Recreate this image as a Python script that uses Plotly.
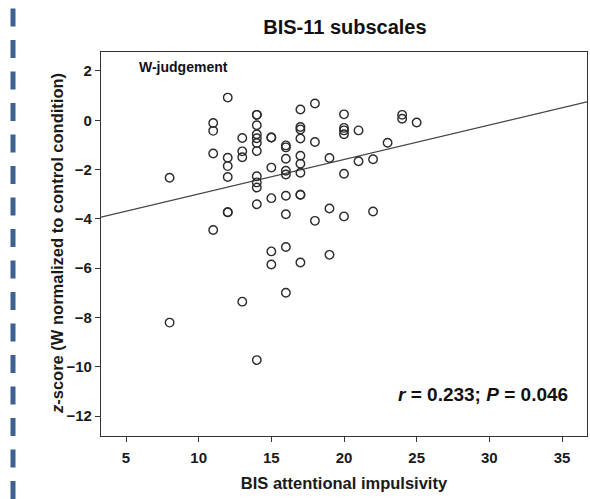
import plotly.graph_objects as go

# BIS attentional impulsivity scores (x) and z-scores (y)
bis_x = (
    [8] * 2 + [11] * 4 + [12] * 6 + [13] * 4 + [14] * 12 + [15] * 6 + [16] * 9 +
    [17] * 10 + [18] * 3 + [19] * 3 + [20] * 6 + [21] * 2 + [22] * 2 + [23] * 1 +
    [24] * 2 + [25] * 1
)
z_scores = [
    -2.33, -8.21,
    -0.11, -0.43, -1.35, -4.45,
    0.92, -1.52, -1.86, -2.30, -3.73, -3.73,
    -0.72, -1.26, -1.50, -7.36,
    0.22, 0.22, -0.20, -0.57, -0.73, -0.92, -1.25, -2.27, -2.52, -2.73, -3.41, -9.73,
    -0.70, -0.70, -1.92, -3.16, -5.32, -5.85,
    -1.02, -1.10, -1.56, -2.05, -2.20, -3.06, -3.81, -5.14, -7.00,
    0.44, -0.27, -0.37, -0.74, -1.44, -1.76, -2.13, -3.02, -3.02, -5.77,
    0.68, -0.88, -4.08,
    -1.53, -3.58, -5.46,
    0.24, -0.31, -0.41, -0.57, -2.17, -3.90,
    -0.41, -1.66,
    -1.58, -3.70,
    -0.91,
    0.22, 0.06,
    -0.09,
]

fit_intercept = -4.39
fit_slope = 0.14

x_range = [3.28, 36.72]
y_range = [-12.81, 2.77]
x_ticks = [5, 10, 15, 20, 25, 30, 35]
x_tick_labels = ["5", "10", "15", "20", "25", "30", "35"]
y_ticks = [2, 0, -2, -4, -6, -8, -10, -12]
y_tick_labels = ["2", "0", "\u22122", "\u22124", "\u22126", "\u22128", "\u221210", "\u221212"]

FONT = "Liberation Sans, Arial, sans-serif"

fig = go.Figure()

fit_x = x_range
fit_y = [fit_intercept + fit_slope * v for v in fit_x]
fig.add_trace(go.Scatter(
    x=fit_x, y=fit_y, mode="lines",
    line=dict(color="#444444", width=1.2),
    hoverinfo="skip", showlegend=False,
))

fig.add_trace(go.Scatter(
    x=bis_x, y=z_scores, mode="markers",
    marker=dict(symbol="circle-open", size=8.5, color="#2a2a2a",
                line=dict(width=1.4, color="#2a2a2a")),
    showlegend=False,
))

axis_common = dict(
    showgrid=False, zeroline=False, showline=True, linecolor="#333333",
    linewidth=1.2, mirror=True, ticks="outside", ticklen=5, tickwidth=1,
    tickcolor="#333333",
    tickfont=dict(family=FONT, size=15, color="#1a1a1a"),
)

fig.update_xaxes(
    range=x_range, tickvals=x_ticks,
    ticktext=["<b>" + t + "</b>" for t in x_tick_labels], **axis_common,
    ticklabelstandoff=3,
    title=dict(text="<b>BIS attentional impulsivity</b>",
               font=dict(family=FONT, size=16.5, color="#1a1a1a"), standoff=12),
)
fig.update_yaxes(
    range=y_range, tickvals=y_ticks,
    ticktext=["<b>" + t + "</b>" for t in y_tick_labels], **axis_common,
)

fig.update_layout(
    width=590, height=499,
    margin=dict(l=101, r=3, t=52, b=63),
    paper_bgcolor="white", plot_bgcolor="white",
    title=dict(text="<b>BIS-11 subscales</b>", x=0.5846, xanchor="center",
               y=0.945, yanchor="middle",
               font=dict(family=FONT, size=20, color="#111111")),
    annotations=[
        dict(text="<b><i>z</i>-score (W normalized to control condition)</b>",
             xref="paper", yref="paper", x=(57 - 101) / 486, y=0.5,
             xanchor="center", yanchor="middle", textangle=-90, showarrow=False,
             font=dict(family=FONT, size=16.5, color="#1a1a1a")),
        dict(text="<b>W-judgement</b>", xref="paper", yref="paper",
             x=0.075, y=0.96, xanchor="left", yanchor="middle", showarrow=False,
             font=dict(family=FONT, size=14, color="#111111")),
        dict(text="<b><i>r</i> = 0.233; <i>P</i> = 0.046</b>", xref="paper", yref="paper",
             x=0.965, y=0.109, xanchor="right", yanchor="middle", showarrow=False,
             font=dict(family=FONT, size=19, color="#111111")),
    ],
    shapes=[
        dict(type="line", xref="paper", yref="paper",
             x0=(13 - 101) / 486, x1=(13 - 101) / 486, y0=-63 / 384, y1=1 + 52 / 384,
             line=dict(color="#3d6191", width=5, dash="18px,13.5px")),
    ],
)

fig.write_html("out.html")
